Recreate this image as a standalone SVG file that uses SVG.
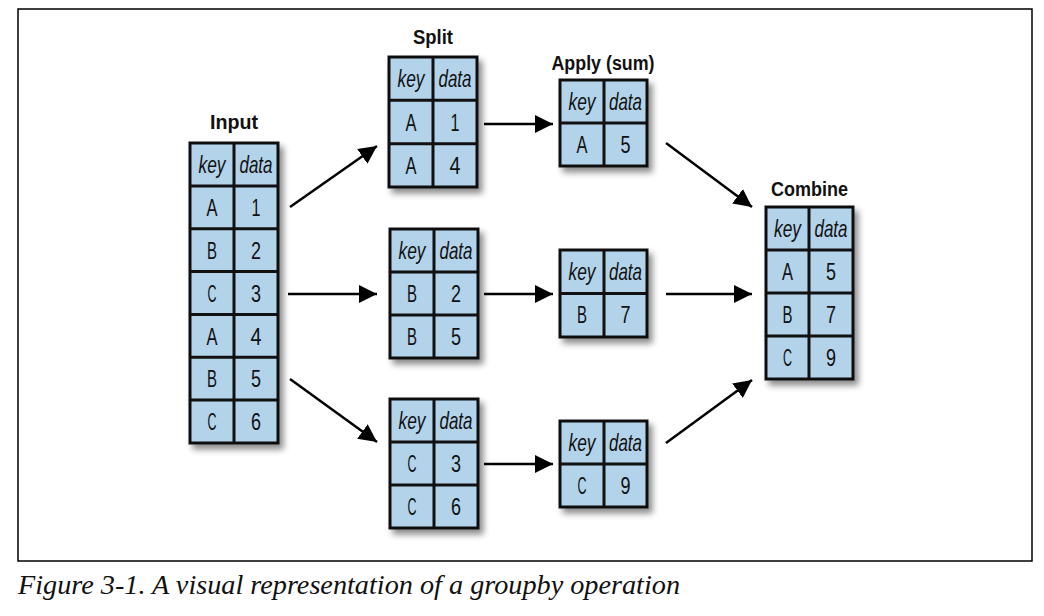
<svg xmlns="http://www.w3.org/2000/svg" width="1044" height="616" viewBox="0 0 1044 616">
<style>
.cell{fill:#b3d3ea;stroke:#111;stroke-width:3}
.div{stroke:#111;stroke-width:3}
.t{font-family:'Liberation Sans',Arial,sans-serif;font-size:24px;text-anchor:middle;fill:#111}
.h{font-style:italic}
.title{font-family:'Liberation Sans',Arial,sans-serif;font-size:20px;font-weight:bold;text-anchor:middle;fill:#111}
.conn{stroke:#000;stroke-width:2.5;fill:none;marker-end:url(#arr)}
.cap{font-family:'Liberation Serif',serif;font-style:italic;font-size:28px;fill:#111}
</style>
<defs>
<filter id="sh" x="-20%" y="-20%" width="150%" height="150%">
<feDropShadow dx="4" dy="5" stdDeviation="3" flood-color="#000" flood-opacity="0.45"/>
</filter>
<marker id="arr" markerUnits="userSpaceOnUse" markerWidth="20" markerHeight="18" refX="18" refY="9" orient="auto">
<path d="M0,0 L18,9 L0,18 Z" fill="#000"/>
</marker>
</defs>
<rect x="18" y="9" width="1014" height="552" fill="#fff" stroke="#000" stroke-width="1.5"/>

<g id="input">
<text class="title" x="234" y="129" textLength="48" lengthAdjust="spacingAndGlyphs">Input</text>
<rect class="cell" x="190" y="143" width="88" height="300" filter="url(#sh)"/>
<line class="div" x1="234" y1="143" x2="234" y2="443"/>
<line class="div" x1="190" y1="185.9" x2="278" y2="185.9"/>
<line class="div" x1="190" y1="228.7" x2="278" y2="228.7"/>
<line class="div" x1="190" y1="271.6" x2="278" y2="271.6"/>
<line class="div" x1="190" y1="314.4" x2="278" y2="314.4"/>
<line class="div" x1="190" y1="357.3" x2="278" y2="357.3"/>
<line class="div" x1="190" y1="400.1" x2="278" y2="400.1"/>
<text class="t h" x="212" y="173" textLength="27" lengthAdjust="spacingAndGlyphs">key</text><text class="t h" x="256" y="173" textLength="33" lengthAdjust="spacingAndGlyphs">data</text>
<text class="t" x="212" y="216" textLength="11" lengthAdjust="spacingAndGlyphs">A</text><text class="t" x="256" y="216" textLength="9" lengthAdjust="spacingAndGlyphs">1</text>
<text class="t" x="212" y="259" textLength="10" lengthAdjust="spacingAndGlyphs">B</text><text class="t" x="256" y="259" textLength="10" lengthAdjust="spacingAndGlyphs">2</text>
<text class="t" x="212" y="302" textLength="9" lengthAdjust="spacingAndGlyphs">C</text><text class="t" x="256" y="302" textLength="10" lengthAdjust="spacingAndGlyphs">3</text>
<text class="t" x="212" y="345" textLength="11" lengthAdjust="spacingAndGlyphs">A</text><text class="t" x="256" y="345" textLength="11" lengthAdjust="spacingAndGlyphs">4</text>
<text class="t" x="212" y="387" textLength="10" lengthAdjust="spacingAndGlyphs">B</text><text class="t" x="256" y="387" textLength="10" lengthAdjust="spacingAndGlyphs">5</text>
<text class="t" x="212" y="430" textLength="9" lengthAdjust="spacingAndGlyphs">C</text><text class="t" x="256" y="430" textLength="10" lengthAdjust="spacingAndGlyphs">6</text>
</g>

<g id="split-a">
<text class="title" x="433" y="44" textLength="40" lengthAdjust="spacingAndGlyphs">Split</text>
<rect class="cell" x="389" y="57" width="88" height="130" filter="url(#sh)"/>
<line class="div" x1="433" y1="57" x2="433" y2="187"/>
<line class="div" x1="389" y1="100.3" x2="477" y2="100.3"/>
<line class="div" x1="389" y1="143.7" x2="477" y2="143.7"/>
<text class="t h" x="411" y="87" textLength="27" lengthAdjust="spacingAndGlyphs">key</text><text class="t h" x="455" y="87" textLength="33" lengthAdjust="spacingAndGlyphs">data</text>
<text class="t" x="411" y="131" textLength="11" lengthAdjust="spacingAndGlyphs">A</text><text class="t" x="455" y="131" textLength="9" lengthAdjust="spacingAndGlyphs">1</text>
<text class="t" x="411" y="174" textLength="11" lengthAdjust="spacingAndGlyphs">A</text><text class="t" x="455" y="174" textLength="11" lengthAdjust="spacingAndGlyphs">4</text>
</g>

<g id="split-b">
<rect class="cell" x="390" y="229" width="88" height="129" filter="url(#sh)"/>
<line class="div" x1="434" y1="229" x2="434" y2="358"/>
<line class="div" x1="390" y1="272" x2="478" y2="272"/>
<line class="div" x1="390" y1="315" x2="478" y2="315"/>
<text class="t h" x="412" y="259" textLength="27" lengthAdjust="spacingAndGlyphs">key</text><text class="t h" x="456" y="259" textLength="33" lengthAdjust="spacingAndGlyphs">data</text>
<text class="t" x="412" y="302" textLength="10" lengthAdjust="spacingAndGlyphs">B</text><text class="t" x="456" y="302" textLength="10" lengthAdjust="spacingAndGlyphs">2</text>
<text class="t" x="412" y="345" textLength="10" lengthAdjust="spacingAndGlyphs">B</text><text class="t" x="456" y="345" textLength="10" lengthAdjust="spacingAndGlyphs">5</text>
</g>

<g id="split-c">
<rect class="cell" x="390" y="399" width="88" height="129" filter="url(#sh)"/>
<line class="div" x1="434" y1="399" x2="434" y2="528"/>
<line class="div" x1="390" y1="442" x2="478" y2="442"/>
<line class="div" x1="390" y1="485" x2="478" y2="485"/>
<text class="t h" x="412" y="429" textLength="27" lengthAdjust="spacingAndGlyphs">key</text><text class="t h" x="456" y="429" textLength="33" lengthAdjust="spacingAndGlyphs">data</text>
<text class="t" x="412" y="472" textLength="9" lengthAdjust="spacingAndGlyphs">C</text><text class="t" x="456" y="472" textLength="10" lengthAdjust="spacingAndGlyphs">3</text>
<text class="t" x="412" y="515" textLength="9" lengthAdjust="spacingAndGlyphs">C</text><text class="t" x="456" y="515" textLength="10" lengthAdjust="spacingAndGlyphs">6</text>
</g>

<g id="apply-a">
<text class="title" x="603" y="70" textLength="103" lengthAdjust="spacingAndGlyphs">Apply (sum)</text>
<rect class="cell" x="560" y="80" width="87" height="86" filter="url(#sh)"/>
<line class="div" x1="604" y1="80" x2="604" y2="166"/>
<line class="div" x1="560" y1="123" x2="647" y2="123"/>
<text class="t h" x="582" y="110" textLength="27" lengthAdjust="spacingAndGlyphs">key</text><text class="t h" x="625.5" y="110" textLength="33" lengthAdjust="spacingAndGlyphs">data</text>
<text class="t" x="582" y="153" textLength="11" lengthAdjust="spacingAndGlyphs">A</text><text class="t" x="625.5" y="153" textLength="10" lengthAdjust="spacingAndGlyphs">5</text>
</g>

<g id="apply-b">
<rect class="cell" x="560" y="250" width="87" height="87" filter="url(#sh)"/>
<line class="div" x1="604" y1="250" x2="604" y2="337"/>
<line class="div" x1="560" y1="293.5" x2="647" y2="293.5"/>
<text class="t h" x="582" y="280" textLength="27" lengthAdjust="spacingAndGlyphs">key</text><text class="t h" x="625.5" y="280" textLength="33" lengthAdjust="spacingAndGlyphs">data</text>
<text class="t" x="582" y="323" textLength="10" lengthAdjust="spacingAndGlyphs">B</text><text class="t" x="625.5" y="323" textLength="10" lengthAdjust="spacingAndGlyphs">7</text>
</g>

<g id="apply-c">
<rect class="cell" x="560" y="421" width="87" height="86" filter="url(#sh)"/>
<line class="div" x1="604" y1="421" x2="604" y2="507"/>
<line class="div" x1="560" y1="464" x2="647" y2="464"/>
<text class="t h" x="582" y="451" textLength="27" lengthAdjust="spacingAndGlyphs">key</text><text class="t h" x="625.5" y="451" textLength="33" lengthAdjust="spacingAndGlyphs">data</text>
<text class="t" x="582" y="494" textLength="9" lengthAdjust="spacingAndGlyphs">C</text><text class="t" x="625.5" y="494" textLength="10" lengthAdjust="spacingAndGlyphs">9</text>
</g>

<g id="combine">
<text class="title" x="809.5" y="196" textLength="77" lengthAdjust="spacingAndGlyphs">Combine</text>
<rect class="cell" x="766" y="207" width="87" height="172" filter="url(#sh)"/>
<line class="div" x1="809" y1="207" x2="809" y2="379"/>
<line class="div" x1="766" y1="250" x2="853" y2="250"/>
<line class="div" x1="766" y1="293" x2="853" y2="293"/>
<line class="div" x1="766" y1="336" x2="853" y2="336"/>
<text class="t h" x="787.5" y="237" textLength="27" lengthAdjust="spacingAndGlyphs">key</text><text class="t h" x="831" y="237" textLength="33" lengthAdjust="spacingAndGlyphs">data</text>
<text class="t" x="787.5" y="280" textLength="11" lengthAdjust="spacingAndGlyphs">A</text><text class="t" x="831" y="280" textLength="10" lengthAdjust="spacingAndGlyphs">5</text>
<text class="t" x="787.5" y="323" textLength="10" lengthAdjust="spacingAndGlyphs">B</text><text class="t" x="831" y="323" textLength="10" lengthAdjust="spacingAndGlyphs">7</text>
<text class="t" x="787.5" y="366" textLength="9" lengthAdjust="spacingAndGlyphs">C</text><text class="t" x="831" y="366" textLength="10" lengthAdjust="spacingAndGlyphs">9</text>
</g>

<g id="connectors">
<line class="conn" x1="290" y1="207" x2="377" y2="146"/>
<line class="conn" x1="288" y1="294" x2="377" y2="294"/>
<line class="conn" x1="290" y1="379" x2="377" y2="442"/>
<line class="conn" x1="484" y1="124" x2="553" y2="124"/>
<line class="conn" x1="484" y1="294" x2="553" y2="294"/>
<line class="conn" x1="484" y1="464" x2="553" y2="464"/>
<line class="conn" x1="666" y1="143" x2="752" y2="207"/>
<line class="conn" x1="666" y1="294" x2="752" y2="294"/>
<line class="conn" x1="666" y1="443" x2="752" y2="380"/>
</g>

<text class="cap" x="18" y="594" textLength="662" lengthAdjust="spacingAndGlyphs">Figure 3-1. A visual representation of a groupby operation</text>
</svg>
